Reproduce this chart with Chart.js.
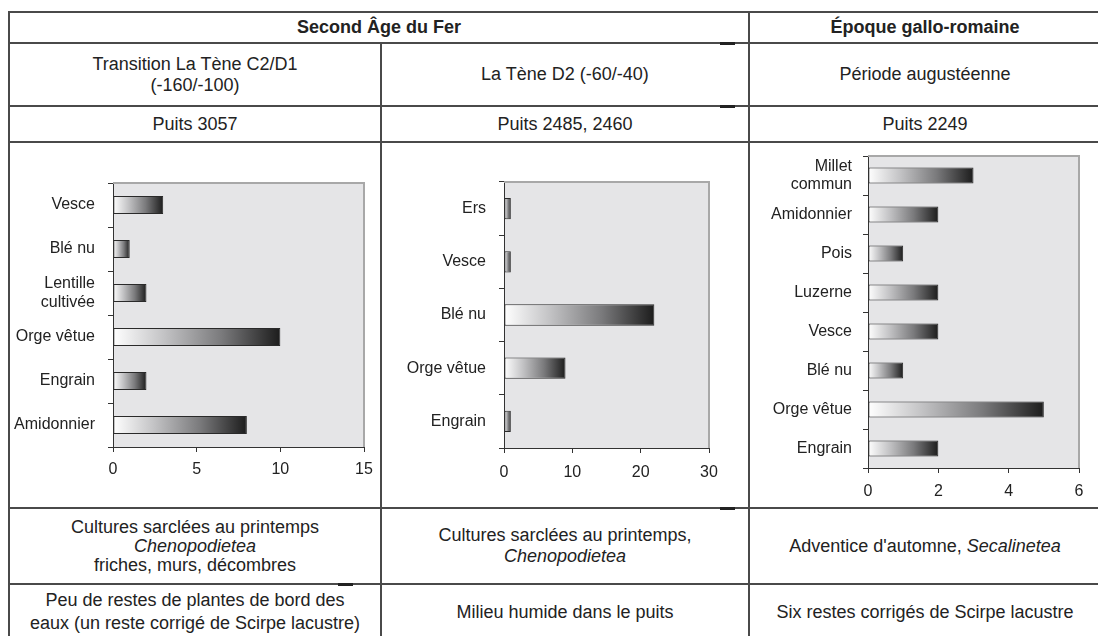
<!DOCTYPE html>
<html>
<head>
<meta charset="utf-8">
<script src="https://cdn.jsdelivr.net/npm/chart.js@4.4.1/dist/chart.umd.min.js"></script>
<style>
body{margin:0;background:#fff;width:1098px;height:636px;overflow:hidden;position:relative;font-family:"Liberation Sans",Arial,sans-serif;color:#222}
.h{position:absolute;height:2px;background:#4a4a4a}
.v{position:absolute;width:2px;background:#4a4a4a}
.m{position:absolute;height:3px;background:#222}
.c{position:absolute;display:flex;align-items:center;justify-content:center;text-align:center;font-size:18px;line-height:21px}
canvas{position:absolute}
</style>
</head>
<body>
<!-- table rules -->
<div class="h" style="left:9px;top:11px;width:1100px"></div>
<div class="h" style="left:9px;top:42px;width:1100px"></div>
<div class="h" style="left:9px;top:105px;width:1100px"></div>
<div class="h" style="left:9px;top:141px;width:1100px"></div>
<div class="h" style="left:9px;top:507px;width:1100px"></div>
<div class="h" style="left:9px;top:583px;width:1100px"></div>
<div class="v" style="left:8px;top:11px;height:640px"></div>
<div class="v" style="left:380px;top:42px;height:600px"></div>
<div class="v" style="left:748px;top:11px;height:640px"></div>
<div class="m" style="left:720px;top:42px;width:15px"></div>
<div class="m" style="left:720px;top:105px;width:15px"></div>
<div class="m" style="left:720px;top:507px;width:15px"></div>
<div class="m" style="left:338px;top:583px;width:15px"></div>

<div class="c" style="left:10px;top:13px;width:738px;height:29px;font-weight:bold"><div>Second Âge du Fer</div></div>
<div class="c" style="left:750px;top:13px;width:350px;height:29px;font-weight:bold"><div>Époque gallo-romaine</div></div>

<div class="c" style="left:10px;top:44px;width:370px;height:61px"><div>Transition La Tène C2/D1<br>(-160/-100)</div></div>
<div class="c" style="left:382px;top:44px;width:366px;height:61px"><div>La Tène D2 (-60/-40)</div></div>
<div class="c" style="left:750px;top:44px;width:350px;height:61px"><div>Période augustéenne</div></div>

<div class="c" style="left:10px;top:107px;width:370px;height:34px"><div>Puits 3057</div></div>
<div class="c" style="left:382px;top:107px;width:366px;height:34px"><div>Puits 2485, 2460</div></div>
<div class="c" style="left:750px;top:107px;width:350px;height:34px"><div>Puits 2249</div></div>

<canvas id="c1" width="370" height="364" style="left:10px;top:143px"></canvas>
<canvas id="c2" width="366" height="364" style="left:382px;top:143px"></canvas>
<canvas id="c3" width="348" height="364" style="left:750px;top:143px"></canvas>

<div class="c" style="left:10px;top:509px;width:370px;height:74px;line-height:19px"><div>Cultures sarclées au printemps<br><i>Chenopodietea</i><br>friches, murs, décombres</div></div>
<div class="c" style="left:382px;top:509px;width:366px;height:74px"><div>Cultures sarclées au printemps,<br><i>Chenopodietea</i></div></div>
<div class="c" style="left:750px;top:509px;width:350px;height:74px"><div>Adventice d'automne, <i>Secalinetea</i></div></div>

<div class="c" style="left:10px;top:585px;width:370px;height:54px;line-height:23px"><div>Peu de restes de plantes de bord des<br>eaux (un reste corrigé de Scirpe lacustre)</div></div>
<div class="c" style="left:382px;top:585px;width:366px;height:54px"><div>Milieu humide dans le puits</div></div>
<div class="c" style="left:750px;top:585px;width:350px;height:54px"><div>Six restes corrigés de Scirpe lacustre</div></div>

<script>
// Puits 3057
const taxons1 = ['Vesce', 'Blé nu', ['Lentille', 'cultivée'], 'Orge vêtue', 'Engrain', 'Amidonnier']
const restes1 = [3, 1, 2, 10, 2, 8]
const ticks1 = [0, 5, 10, 15]

// Puits 2485, 2460
const taxons2 = ['Ers', 'Vesce', 'Blé nu', 'Orge vêtue', 'Engrain']
const restes2 = [1, 1, 22, 9, 1]
const ticks2 = [0, 10, 20, 30]

// Puits 2249
const taxons3 = [['Millet', 'commun'], 'Amidonnier', 'Pois', 'Luzerne', 'Vesce', 'Blé nu', 'Orge vêtue', 'Engrain']
const restes3 = [3, 2, 1, 2, 2, 1, 5, 2]
const ticks3 = [0, 2, 4, 6]

Chart.defaults.font.family = '"Liberation Sans", Arial, sans-serif'
Chart.defaults.font.size = 16
Chart.defaults.color = '#222'
Chart.defaults.animation = false

function barFill(ctx) {
    const x = ctx.chart.scales.x
    if (!x || ctx.type !== 'data') return '#888'
    const x0 = x.getPixelForValue(0)
    const x1 = x.getPixelForValue(ctx.raw)
    if (!isFinite(x0) || !isFinite(x1) || x1 === x0) return '#888'
    const g = ctx.chart.ctx.createLinearGradient(x0, 0, x1, 0)
    g.addColorStop(0, '#ffffff')
    g.addColorStop(0.3, '#c4c4c6')
    g.addColorStop(0.65, '#7a7a7c')
    g.addColorStop(1, '#1c1c1c')
    return g
}

const plotFrame = {
    id: 'plotFrame',
    beforeDraw(chart) {
        const { ctx, chartArea: a } = chart
        ctx.save()
        ctx.fillStyle = '#e5e5e7'
        ctx.fillRect(a.left, a.top, a.right - a.left, a.bottom - a.top)
        ctx.restore()
    },
    afterDraw(chart) {
        const { ctx, chartArea: a } = chart
        ctx.save()
        ctx.strokeStyle = '#a8a8a8'
        ctx.lineWidth = 2
        ctx.beginPath()
        ctx.moveTo(a.left, a.top)
        ctx.lineTo(a.right, a.top)
        ctx.lineTo(a.right, a.bottom)
        ctx.stroke()
        ctx.restore()
    }
}

function drawChart(id, taxons, restes, ticks, g) {
    const context = document.getElementById(id).getContext('2d')
    const chart = new Chart(context, {
        type: 'bar',
        data: {
            labels: taxons,
            datasets: [{
                data: restes,
                backgroundColor: barFill,
                borderColor: '#2a2a2a',
                borderWidth: 1,
                borderSkipped: false,
                barPercentage: g.bar,
                categoryPercentage: 1
            }]
        },
        plugins: [plotFrame],
        options: {
            indexAxis: 'y',
            responsive: false,
            layout: { padding: { left: 0, top: g.top, right: g.right, bottom: g.bottom } },
            plugins: { legend: { display: false }, tooltip: { enabled: false } },
            scales: {
                y: {
                    grid: { drawOnChartArea: false, drawTicks: true, tickLength: 5, color: '#333' },
                    border: { color: '#333', width: 1 },
                    ticks: { autoSkip: false, padding: g.labelPad, font: { size: 16, lineHeight: 1.15 } },
                    afterFit(scale) {
                        scale.width = g.yWidth
                        scale.paddingTop = 0
                        scale.paddingBottom = 0
                    }
                },
                x: {
                    min: ticks[0],
                    max: ticks[ticks.length - 1],
                    afterBuildTicks(scale) {
                        scale.ticks = ticks.map(v => ({ value: v }))
                    },
                    grid: { drawOnChartArea: false, drawTicks: true, tickLength: 5, color: '#333' },
                    border: { color: '#333', width: 1 },
                    ticks: { autoSkip: false, padding: g.tickPad, font: { size: 16 } },
                    afterFit(scale) {
                        scale.height = g.xHeight
                        scale.paddingLeft = 0
                        scale.paddingRight = 0
                    }
                }
            }
        }
    })
    // second pass so the gradients use the finished scale
    chart.update('none')
    return chart
}

drawChart('c1', taxons1, restes1, ticks1, { yWidth: 103, top: 40, right: 16, bottom: 20, xHeight: 40, bar: 0.41, labelPad: 13, tickPad: 8 })
drawChart('c2', taxons2, restes2, ticks2, { yWidth: 122, top: 39, right: 39, bottom: 19, xHeight: 40, bar: 0.40, labelPad: 13, tickPad: 10 })
drawChart('c3', taxons3, restes3, ticks3, { yWidth: 118, top: 13, right: 19, bottom: 9, xHeight: 30, bar: 0.41, labelPad: 11, tickPad: 9 })
</script>
</body>
</html>
